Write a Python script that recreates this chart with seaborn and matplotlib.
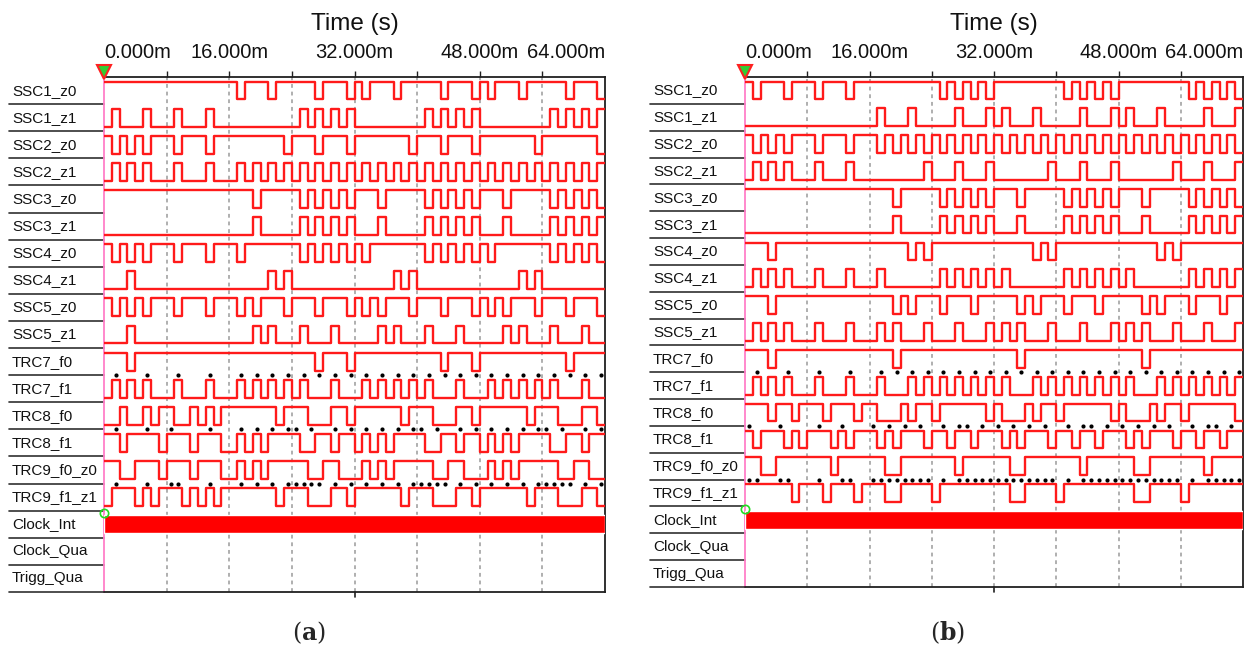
import numpy as np
import seaborn as sns
import matplotlib.pyplot as plt

sns.set_style('white')
plt.rcParams['font.family'] = ['Liberation Sans', 'DejaVu Sans']
plt.rcParams['mathtext.fontset'] = 'dejavuserif'

names = ['SSC1_z0', 'SSC1_z1', 'SSC2_z0', 'SSC2_z1', 'SSC3_z0', 'SSC3_z1',
         'SSC4_z0', 'SSC4_z1', 'SSC5_z0', 'SSC5_z1', 'TRC7_f0', 'TRC7_f1',
         'TRC8_f0', 'TRC8_f1', 'TRC9_f0_z0', 'TRC9_f1_z1',
         'Clock_Int', 'Clock_Qua', 'Trigg_Qua']

tick_pos = [0, 16, 32, 48, 64]
tick_txt = ['0.000m', '16.000m', '32.000m', '48.000m', '64.000m']

# (a) resting level of each trace, and the 1 ms slots where it flips
a_base = [1, 0, 1, 0, 1, 0, 1, 0, 1, 0, 1, 0, 1, 1, 1, 1]
a_flip = [
    [17, 21, 27, 31, 33, 37, 43, 47, 49, 53, 59, 63],
    [1, 5, 9, 13, 25, 27, 29, 31, 41, 43, 45, 47, 57, 59, 61, 63],
    [1, 3, 5, 9, 13, 23, 27, 31, 39, 43, 47, 55, 63],
    [1, 3, 5, 9, 13, 17, 19, 21, 23, 25, 27, 29, 31, 33, 35, 37, 39, 41, 43,
     45, 47, 49, 51, 53, 55, 57, 59, 61, 63],
    [19, 25, 27, 29, 31, 35, 41, 43, 45, 47, 51, 57, 59, 61, 63],
    [19, 25, 27, 29, 31, 35, 41, 43, 45, 47, 51, 57, 59, 61, 63],
    [1, 3, 5, 9, 13, 17, 25, 27, 29, 31, 33, 41, 43, 45, 47, 49, 57, 59, 61, 63],
    [3, 21, 23, 37, 39, 53, 55],
    [1, 3, 5, 9, 13, 17, 19, 23, 27, 31, 33, 35, 39, 43, 47, 49, 51, 55, 59, 63],
    [3, 19, 21, 25, 29, 35, 37, 41, 45, 51, 53, 57, 61],
    [3, 27, 31, 43, 47, 59],
    [1, 3, 5, 9, 13, 17, 19, 21, 23, 25, 29, 33, 35, 37, 39, 41, 45, 49, 51,
     53, 55, 57, 61],
    [0, 1, 3, 4, 6, 9, 10, 12, 14, 22, 26, 27, 28, 31, 38, 42, 43, 44, 47,
     54, 58, 59, 60, 63],
    [2, 7, 11, 15, 16, 18, 20, 25, 26, 29, 32, 34, 36, 41, 42, 45, 48, 50,
     52, 57, 58, 61],
    [2, 3, 7, 11, 15, 16, 18, 20, 26, 27, 30, 31, 32, 34, 36, 42, 43, 46, 47,
     48, 50, 52, 58, 59, 62, 63],
    [0, 4, 6, 10, 12, 14, 22, 26, 27, 28, 31, 38, 42, 43, 44, 47, 54, 58, 59,
     60, 63],
]
a_dots = {
    11: [1, 5, 9, 13, 17, 19, 21, 23, 25, 27, 29, 31, 33, 35, 37, 39, 41, 43,
         45, 47, 49, 51, 53, 55, 57, 59, 61, 63],
    13: [1, 5, 8, 13, 17, 19, 21, 23, 24, 26, 29, 31, 33, 35, 37, 39, 40, 42,
         45, 47, 49, 51, 53, 55, 56, 58, 61, 63],
    15: [1, 5, 8, 9, 13, 17, 19, 21, 23, 24, 25, 26, 27, 29, 31, 33, 35, 37,
         39, 40, 41, 42, 43, 45, 47, 49, 51, 53, 55, 56, 57, 58, 59, 61, 63],
}

# (b)
b_base = [1, 0, 1, 0, 1, 0, 1, 0, 1, 0, 1, 0, 1, 1, 1, 1]
b_flip = [
    [1, 5, 9, 13, 25, 27, 29, 31, 41, 43, 45, 47, 57, 59, 61, 63],
    [17, 21, 27, 31, 33, 37, 43, 47, 49, 53, 59, 63],
    [1, 3, 5, 9, 13, 17, 19, 21, 23, 25, 27, 29, 31, 33, 35, 37, 39, 41, 43,
     45, 47, 49, 51, 53, 55, 57, 59, 61, 63],
    [1, 3, 5, 9, 13, 23, 27, 31, 39, 43, 47, 55, 59, 63],
    [19, 25, 27, 29, 31, 35, 41, 43, 45, 47, 51, 57, 59, 61, 63],
    [19, 25, 27, 29, 31, 35, 41, 43, 45, 47, 51, 57, 59, 61, 63],
    [3, 21, 23, 37, 39, 53, 55],
    [1, 3, 5, 9, 13, 17, 25, 27, 29, 31, 33, 41, 43, 45, 47, 49, 57, 59, 61, 63],
    [3, 19, 21, 25, 29, 35, 37, 41, 45, 51, 53, 57, 61],
    [1, 3, 5, 9, 13, 17, 19, 23, 27, 31, 33, 35, 39, 43, 47, 49, 51, 55, 59, 63],
    [3, 19, 35, 51],
    [1, 3, 5, 9, 13, 17, 21, 23, 25, 27, 29, 31, 33, 37, 39, 41, 43, 45, 47,
     49, 53, 55, 57, 59, 61, 63],
    [3, 6, 10, 14, 17, 18, 19, 21, 24, 31, 33, 34, 35, 37, 40, 47, 49, 50, 51,
     53, 56, 63],
    [1, 5, 7, 11, 13, 17, 19, 23, 26, 29, 33, 35, 39, 42, 45, 49, 51, 55, 58, 61],
    [2, 3, 11, 18, 19, 27, 34, 35, 43, 50, 51, 59],
    [6, 10, 14, 18, 19, 24, 34, 35, 40, 50, 51, 56],
]
b_dots = {
    11: [1, 5, 9, 13, 17, 19, 21, 23, 25, 27, 29, 31, 33, 35, 37, 39, 41, 43,
         45, 47, 49, 51, 53, 55, 57, 59, 61, 63],
    13: [0, 4, 9, 12, 16, 18, 20, 22, 25, 27, 28, 30, 32, 34, 36, 38, 41, 43,
         44, 46, 48, 50, 52, 54, 57, 59, 60, 62],
    15: [0, 1, 4, 5, 9, 12, 13, 16, 17, 18, 19, 20, 21, 22, 23, 25, 27, 28, 29,
         30, 31, 32, 33, 34, 35, 36, 37, 38, 39, 41, 43, 44, 45, 46, 47, 48, 49,
         50, 51, 52, 53, 54, 55, 57, 59, 60, 61, 62, 63],
}

fig = plt.figure(figsize=(12.49, 6.49), dpi=100)
W, H = 1249.0, 649.0

# pixel boxes of the two plot areas: left, top, right, bottom
boxes = [(104, 77, 605, 592), (745, 77, 1243, 587)]
tags = ['a', 'b']
bases = [a_base, b_base]
flips = [a_flip, b_flip]
dots = [a_dots, b_dots]
tag_x = [309, 948]

for k in range(2):
    l, t, r, b = boxes[k]
    ax = fig.add_axes([l / W, 1 - b / H, (r - l) / W, (b - t) / H])
    ax.set_xlim(0, 64)
    ax.set_ylim(19, 0)
    ax.set_yticks([])

    for g in range(8, 64, 8):
        ax.axvline(g, color='#9a9a9a', lw=1.1, ls=(0, (2.5, 2.5)), zorder=0)

    t_step = np.arange(65)
    for i in range(16):
        lv = np.full(64, bases[k][i])
        lv[flips[k][i]] = 1 - bases[k][i]
        yy = np.where(np.append(lv, lv[-1]) == 1, i + 0.17, i + 0.83)
        sns.lineplot(x=t_step, y=yy, drawstyle='steps-post', color='#ff1a1a',
                     lw=1.7, estimator=None, errorbar=None, ax=ax, zorder=3)

    for i, d in dots[k].items():
        dx = np.array(d) + 0.5
        sns.scatterplot(x=dx, y=np.full(len(dx), i + 0.0), color='black',
                        s=9, linewidth=0, ax=ax, zorder=4)

    # Clock_Int runs too fast to resolve: solid bar
    ax.barh([16.5], [64], left=0, height=0.66, color='#ff0000', zorder=3)

    # frame
    for s in ['top', 'right', 'bottom']:
        ax.spines[s].set_color('#202020')
        ax.spines[s].set_linewidth(1.3)
    ax.spines['left'].set_color('#ff7fc8')
    ax.spines['left'].set_linewidth(1.3)

    ax.set_xticks(range(8, 64, 8))
    ax.set_xticklabels([])
    ax.xaxis.set_ticks_position('top')
    ax.tick_params(axis='x', direction='out', length=4, width=1, color='#202020', pad=0)
    ax.plot([32, 32], [19, 19.2], color='#202020', lw=1.2, clip_on=False)

    # time labels over the top axis
    ty = 1 + (t - 53) / (b - t)
    for p, s in zip(tick_pos, tick_txt):
        ha = 'left' if p == 0 else ('right' if p == 64 else 'center')
        ax.text(p, ty, s, transform=ax.get_xaxis_transform(), ha=ha, va='center',
                fontsize=14.5, color='#111111')
    ax.text(32, 1 + (t - 24) / (b - t), 'Time (s)', transform=ax.get_xaxis_transform(),
            ha='center', va='center', fontsize=17.5, color='#111111')

    # signal name column
    x_lab = -92 / (r - l)
    x_sep = -95 / (r - l)
    for i, nm in enumerate(names):
        ax.text(x_lab, i + 0.5, nm, transform=ax.get_yaxis_transform(),
                ha='left', va='center', fontsize=11, color='#111111')
        ax.plot([x_sep, 0], [i + 1, i + 1], transform=ax.get_yaxis_transform(),
                color='#303030', lw=1.2, clip_on=False)

    # cursor marks
    ax.plot([0], [-0.2], marker='v', ms=10, mfc='#33cc33', mec='#ff2020', mew=1.5,
            clip_on=False, zorder=6)
    ax.plot([0], [16.1], marker='o', ms=6, mfc='none', mec='#22dd22', mew=1.2,
            clip_on=False, zorder=6)

    fig.text(tag_x[k] / W, 1 - 633 / H, '(' + r'$\mathbf{' + tags[k] + '}$' + ')',
             ha='center', va='center', fontsize=17, family='DejaVu Serif')

fig.savefig('out.png', dpi=100)
